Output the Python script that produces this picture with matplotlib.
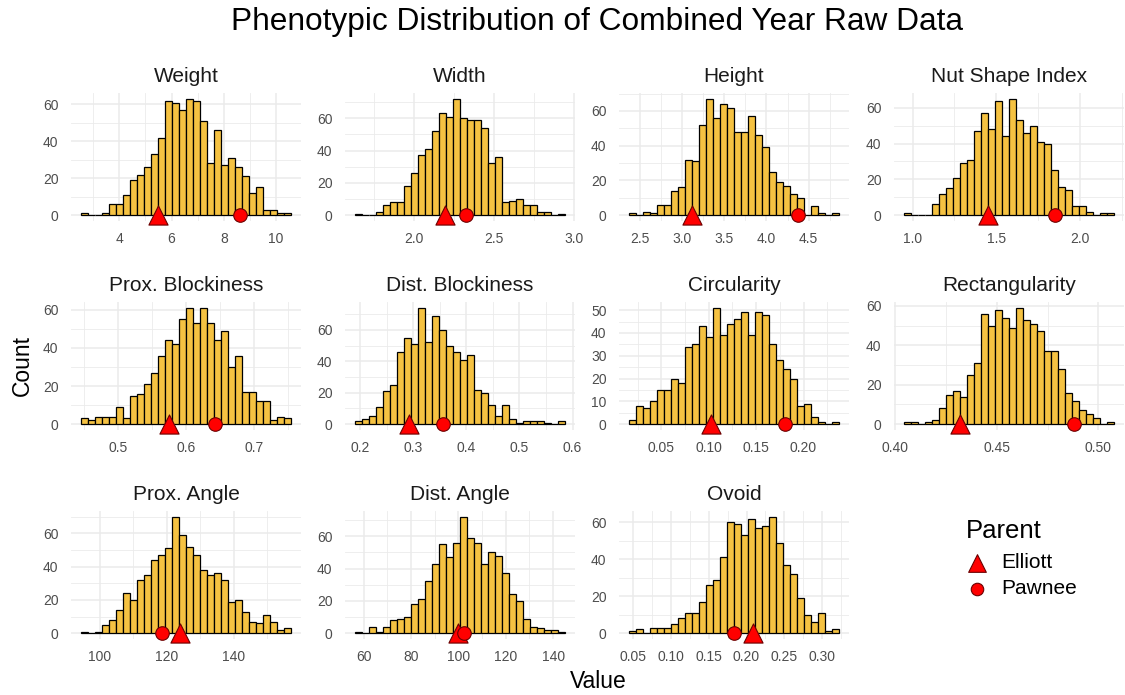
import matplotlib
matplotlib.use("Agg")
import matplotlib.pyplot as plt
from matplotlib.ticker import AutoMinorLocator

plt.rcParams["font.family"] = ["Liberation Sans", "DejaVu Sans"]

# bin counts (30 bins per trait)
weight_counts = [1, 0, 0, 1, 6, 6, 11, 19, 22, 26, 33, 42, 62, 61, 57,
                 63, 62, 51, 28, 46, 27, 31, 26, 21, 12, 15, 3, 3, 1, 1]
width_counts = [1, 0, 0, 2, 6, 8, 8, 18, 26, 37, 41, 52, 63, 61, 72,
                60, 59, 59, 54, 32, 36, 8, 9, 10, 6, 6, 2, 2, 0, 1]
height_counts = [1, 0, 2, 1, 6, 6, 14, 16, 32, 31, 52, 67, 56, 64, 62,
                 48, 48, 57, 46, 39, 25, 19, 17, 12, 10, 0, 5, 1, 0, 1]
nsi_counts = [1, 0, 0, 0, 6, 12, 15, 21, 29, 31, 47, 57, 48, 64, 44,
              65, 53, 46, 50, 41, 40, 25, 16, 14, 5, 5, 2, 0, 1, 1]
prox_block_counts = [3, 2, 4, 4, 4, 9, 3, 15, 16, 21, 27, 36, 44, 42, 55,
                     61, 53, 61, 53, 44, 49, 30, 36, 17, 17, 12, 12, 2, 4, 3]
dist_block_counts = [2, 3, 5, 11, 21, 25, 46, 55, 51, 74, 52, 69, 60, 50, 46,
                     41, 44, 22, 20, 12, 5, 12, 3, 1, 2, 2, 2, 1, 0, 2]
circ_counts = [2, 8, 7, 10, 15, 15, 20, 18, 34, 35, 43, 38, 51, 39, 44,
               46, 49, 39, 49, 48, 35, 28, 24, 20, 8, 9, 3, 1, 0, 1]
rect_counts = [1, 1, 0, 1, 2, 8, 15, 17, 14, 25, 31, 56, 50, 58, 54,
               49, 59, 53, 51, 47, 37, 37, 28, 16, 12, 7, 5, 3, 0, 1]
prox_angle_counts = [1, 0, 1, 5, 8, 14, 24, 20, 32, 35, 44, 47, 51, 70, 59,
                     52, 47, 38, 35, 36, 32, 19, 20, 13, 7, 6, 11, 7, 2, 3]
dist_angle_counts = [1, 0, 4, 1, 4, 8, 9, 10, 18, 21, 32, 43, 55, 47, 56,
                     72, 59, 56, 43, 50, 48, 37, 24, 20, 9, 4, 3, 2, 2, 1]
ovoid_counts = [1, 2, 0, 3, 3, 3, 5, 8, 11, 11, 17, 26, 29, 41, 60,
                59, 53, 62, 57, 58, 63, 49, 37, 32, 19, 10, 6, 11, 1, 2]

traits = ["Weight", "Width", "Height", "Nut Shape Index",
          "Prox. Blockiness", "Dist. Blockiness", "Circularity", "Rectangularity",
          "Prox. Angle", "Dist. Angle", "Ovoid"]
counts = [weight_counts, width_counts, height_counts, nsi_counts,
          prox_block_counts, dist_block_counts, circ_counts, rect_counts,
          prox_angle_counts, dist_angle_counts, ovoid_counts]

# histogram range (left edge of first bin, right edge of last bin)
bin_lo = [2.55, 1.631, 2.376, 0.951, 0.446, 0.1908, 0.0162, 0.4048, 94.6, 56.55, 0.0448]
bin_hi = [10.55, 2.942, 4.855, 2.202, 0.754, 0.585, 0.237, 0.5074, 157.0, 144.8, 0.322]

# parent values
parents = ["Elliott", "Pawnee"]
elliott = [5.49, 2.19, 3.12, 1.45, 0.575, 0.292, 0.102, 0.432, 123.9, 99.8, 0.209]
pawnee = [8.60, 2.326, 4.38, 1.85, 0.642, 0.356, 0.180, 0.488, 118.5, 102.3, 0.183]

# axis breaks
x_breaks = [[4, 6, 8, 10], [2.0, 2.5, 3.0], [2.5, 3.0, 3.5, 4.0, 4.5], [1.0, 1.5, 2.0],
            [0.5, 0.6, 0.7], [0.2, 0.3, 0.4, 0.5, 0.6], [0.05, 0.10, 0.15, 0.20],
            [0.40, 0.45, 0.50], [100, 120, 140], [60, 80, 100, 120, 140],
            [0.05, 0.10, 0.15, 0.20, 0.25, 0.30]]
x_fmt = ["{:.0f}", "{:.1f}", "{:.1f}", "{:.1f}", "{:.1f}", "{:.1f}", "{:.2f}",
         "{:.2f}", "{:.0f}", "{:.0f}", "{:.2f}"]
y_step = [20, 20, 20, 20, 20, 20, 10, 20, 20, 20, 20]

bar_color = "#F5C242"
grid_color = "#EBEBEB"
tick_color = "#4D4D4D"
pt_fill = "red"
pt_edge = "#6b0000"
tri_size, dot_size = 190, 95

fig = plt.figure(figsize=(11.25, 6.95), dpi=100)

W, H = 1125, 695
col_left = [71, 345, 619, 894]
row_bottom = [221, 430, 639]
pw, ph = 230, 128

for i, name in enumerate(traits):
    r, c = divmod(i, 4)
    ax = fig.add_axes([col_left[c] / W, 1 - row_bottom[r] / H, pw / W, ph / H])
    cnt = counts[i]
    n = len(cnt)
    bw = (bin_hi[i] - bin_lo[i]) / n
    centers = [bin_lo[i] + bw * (k + 0.5) for k in range(n)]
    ax.bar(centers, cnt, width=bw, color=bar_color, edgecolor="black",
           linewidth=0.9, zorder=2)
    ax.scatter([elliott[i]], [0], marker="^", s=tri_size, color=pt_fill,
               edgecolor=pt_edge, linewidth=0.8, zorder=4, clip_on=False)
    ax.scatter([pawnee[i]], [0], marker="o", s=dot_size, color=pt_fill,
               edgecolor=pt_edge, linewidth=0.8, zorder=4, clip_on=False)

    span = bin_hi[i] - bin_lo[i]
    ax.set_xlim(bin_lo[i] - 0.05 * span, bin_hi[i] + 0.05 * span)
    ymax = max(cnt)
    ax.set_ylim(-0.05 * ymax, 1.05 * ymax)

    ax.set_xticks(x_breaks[i])
    ax.set_xticklabels([x_fmt[i].format(v) for v in x_breaks[i]])
    ax.set_yticks(list(range(0, int(1.05 * ymax) + 1, y_step[i])))
    ax.xaxis.set_minor_locator(AutoMinorLocator(2))
    ax.yaxis.set_minor_locator(AutoMinorLocator(2))

    ax.grid(which="major", color=grid_color, linewidth=1.1, zorder=0)
    ax.grid(which="minor", color=grid_color, linewidth=0.6, zorder=0)
    ax.set_axisbelow(True)
    for s in ax.spines.values():
        s.set_visible(False)
    ax.tick_params(which="both", length=0, labelsize=10, labelcolor=tick_color)
    ax.tick_params(axis="x", pad=8)
    ax.tick_params(axis="y", pad=9)
    ax.set_title(name, fontsize=15, color="#1A1A1A", pad=8)

fig.text(597 / W, 1 - 22 / H, "Phenotypic Distribution of Combined Year Raw Data",
         ha="center", va="center", fontsize=22.8, color="black")
fig.text(22 / W, 1 - 366 / H, "Count", rotation=90, ha="center", va="center",
         fontsize=16.5)
fig.text(598 / W, 1 - 682 / H, "Value", ha="center", va="center", fontsize=16.5)

# legend drawn in its own axes, pixel coordinates
lg = fig.add_axes([0, 0, 1, 1], facecolor="none")
lg.set_xlim(0, W)
lg.set_ylim(H, 0)
lg.axis("off")
lg.text(966, 531, "Parent", fontsize=18.5, ha="left", va="center")
for k, (lab, mk, sz) in enumerate(zip(parents, ["^", "o"], [tri_size, dot_size])):
    y = 563 + 26 * k
    lg.scatter([977], [y], marker=mk, s=sz * 0.85, color=pt_fill,
               edgecolor=pt_edge, linewidth=0.8)
    lg.text(1001, y, lab, fontsize=15, ha="left", va="center")

fig.savefig("out.png", dpi=100, facecolor="white")
